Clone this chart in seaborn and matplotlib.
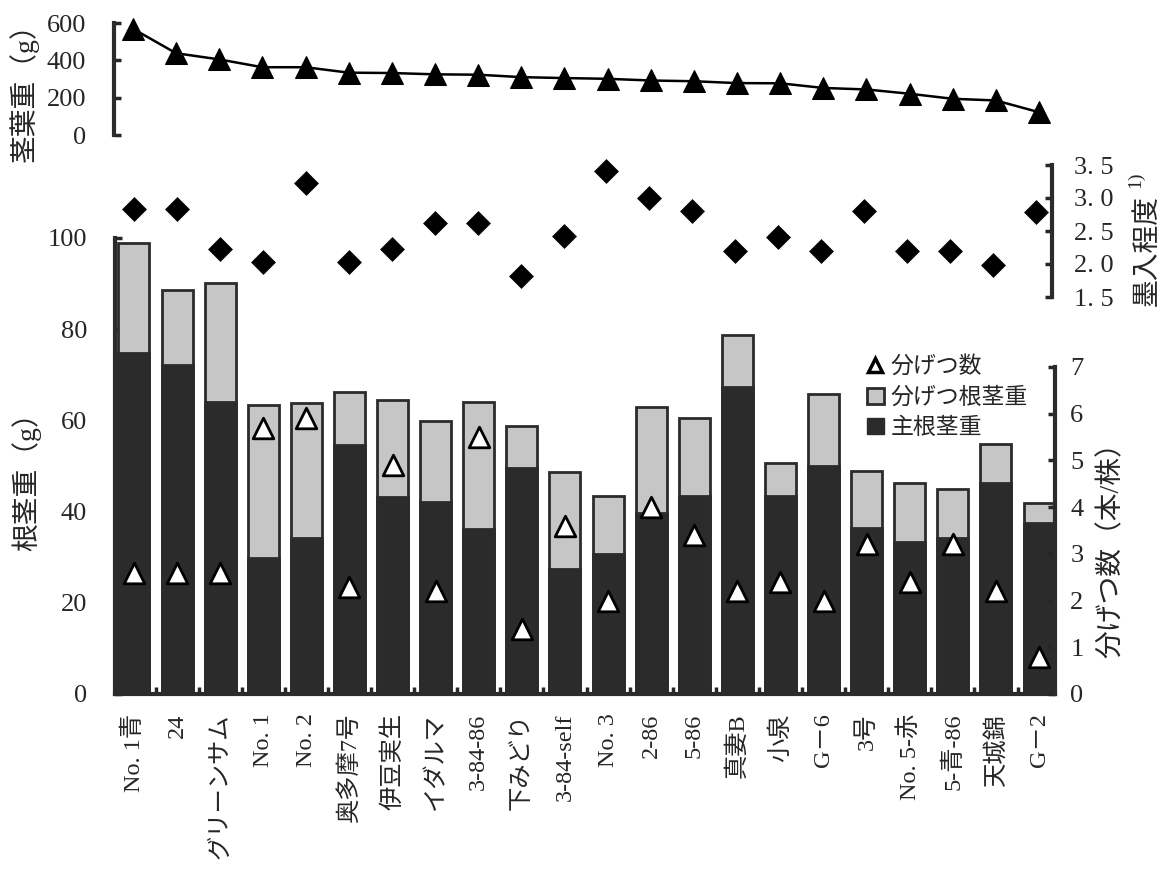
import numpy as np
import matplotlib
matplotlib.use('Agg')
import matplotlib.pyplot as plt
from matplotlib.lines import Line2D
from matplotlib.patches import Patch
import seaborn as sns

sns.set_theme(style="white")
plt.rcParams['font.family'] = ['Liberation Serif', 'Noto Sans CJK JP', 'DejaVu Sans']

# cultivars, in the order of the x axis
cultivars = ["No. 1青", "24", "グリーンサム", "No. 1", "No. 2", "奥多摩7号", "伊豆実生",
             "イダルマ", "3-84-86", "下みどり", "3-84-self", "No. 3", "2-86", "5-86",
             "真妻B", "小泉", "G－6", "3号", "No. 5-赤", "5-青-86", "天城錦", "G－2"]
# top panel: shoot weight (g)
shoot_weight = [569, 438, 405, 363, 363, 334, 332, 325, 323, 310, 305,
                301, 292, 288, 278, 277, 252, 244, 221, 194, 185, 122]
# middle panel: ink degree
ink_degree = [2.83, 2.83, 2.23, 2.03, 3.23, 2.03, 2.23, 2.62, 2.62, 1.82, 2.42,
              3.41, 3.00, 2.80, 2.20, 2.41, 2.20, 2.80, 2.20, 2.20, 1.98, 2.79]
ink_ticks = [1.5, 2.0, 2.5, 3.0, 3.5]
ink_ticklabels = ['1. 5', '2. 0', '2. 5', '3. 0', '3. 5']
# bottom panel: rhizome weight (g), total and main rhizome
root_total = [99.0, 88.6, 90.1, 63.4, 63.8, 66.3, 64.5, 59.9, 64.1, 58.8, 48.7,
              43.4, 63.0, 60.6, 78.7, 50.7, 65.7, 48.9, 46.3, 44.9, 54.8, 41.9]
root_main = [74.8, 72.1, 64.0, 29.8, 34.2, 54.6, 43.2, 42.1, 36.2, 49.6, 27.4,
             30.7, 39.6, 43.4, 67.4, 43.4, 50.0, 36.4, 33.3, 34.2, 46.3, 37.5]
# tillers per plant
tillers = [2.6, 2.6, 2.6, 5.7, 5.9, 2.3, 4.9, 2.2, 5.5, 1.4, 3.6,
           2.0, 4.0, 3.4, 2.2, 2.4, 2.0, 3.2, 2.4, 3.2, 2.2, 0.8]

W, H = 1167, 882
dark = '#2b2b2b'
gray = '#c6c6c6'
idx = np.arange(len(cultivars))
xlim = (-0.44, 21.37)
tick_fs = 19

def px_axes(x0, x1, ytop, ybot):
    return [x0 / W, 1 - ybot / H, (x1 - x0) / W, (ybot - ytop) / H]

fig = plt.figure(figsize=(W / 100, H / 100), dpi=100)
ax = fig.add_axes(px_axes(115, 1055, 238, 694))
ax_mid = fig.add_axes(px_axes(115, 1052, 165, 297))
ax_top = fig.add_axes(px_axes(114, 1055, 23, 135))
for a in (ax, ax_mid, ax_top):
    a.set_facecolor('none')

# --- bottom: stacked bars + tiller count
sns.barplot(x=cultivars, y=root_total, color=gray, edgecolor=dark, linewidth=2,
            width=0.72, saturation=1, ax=ax)
sns.barplot(x=cultivars, y=root_main, color=dark, edgecolor=dark, linewidth=2,
            width=0.72, saturation=1, ax=ax)
ax.set_ylim(0, 100)
ax.set_xlim(*xlim)
ax.set_yticks([0, 20, 40, 60, 80, 100])
ax.set_xticks(idx)
ax.set_xticklabels(cultivars, rotation=90, fontsize=17.5)
ax.set_xticks(idx[:-1] + 0.5, minor=True)
ax.tick_params(axis='x', which='major', length=0, pad=14)
ax.tick_params(axis='x', which='minor', direction='in', length=5, width=2.5, bottom=True)
ax.tick_params(axis='y', direction='in', length=5, width=2.5, left=True, labelsize=tick_fs, pad=20)
ax.set_xlabel('')
ax.set_ylabel('')
for s in ['top', 'right']:
    ax.spines[s].set_visible(False)
ax.spines['left'].set_bounds(0, 100)
for s in ['left', 'bottom']:
    ax.spines[s].set_linewidth(3)
    ax.spines[s].set_color(dark)

ax_r = ax.twinx()
sns.scatterplot(x=idx, y=tillers, marker='^', s=220, color='white', edgecolor='black',
                linewidth=2, ax=ax_r, zorder=5)
ax_r.set_ylim(0, 9.76)
ax_r.set_yticks(range(8))
ax_r.set_xlim(*xlim)
ax_r.tick_params(axis='y', direction='in', length=5, width=2.5, right=True, labelsize=tick_fs, pad=11)
ax_r.set_ylabel('')
for s in ['top', 'left', 'bottom']:
    ax_r.spines[s].set_visible(False)
ax_r.spines['right'].set_bounds(0, 7)
ax_r.spines['right'].set_linewidth(3)
ax_r.spines['right'].set_color(dark)

handles = [Line2D([], [], marker='^', ls='none', mfc='white', mec='black', mew=2.5, ms=10),
           Patch(facecolor=gray, edgecolor=dark, linewidth=2),
           Patch(facecolor=dark, edgecolor=dark)]
ax.legend(handles, ['分げつ数', '分げつ根茎重', '主根茎重'], loc='upper left',
          bbox_to_anchor=(856 / W, 1 - 345 / H), bbox_transform=fig.transFigure,
          frameon=False, fontsize=16.5, handlelength=0.7, handleheight=0.7,
          handletextpad=0.3, labelspacing=0.4, borderpad=0)

# --- middle: ink degree
sns.scatterplot(x=idx, y=ink_degree, marker='D', s=190, color='black', ax=ax_mid, clip_on=False)
ax_mid.set_ylim(1.5, 3.5)
ax_mid.set_xlim(*xlim)
ax_mid.set_yticks(ink_ticks)
ax_mid.set_yticklabels(ink_ticklabels)
ax_mid.yaxis.tick_right()
ax_mid.tick_params(axis='y', direction='in', length=5, width=2.5, right=True, labelsize=tick_fs, pad=16)
ax_mid.set_xticks([])
ax_mid.set_xlabel('')
ax_mid.set_ylabel('')
for s in ['top', 'left', 'bottom']:
    ax_mid.spines[s].set_visible(False)
ax_mid.spines['right'].set_linewidth(3)
ax_mid.spines['right'].set_color(dark)

# --- top: shoot weight
sns.lineplot(x=idx, y=shoot_weight, color='black', marker='^', markersize=16, mec='black',
             lw=1.8, ax=ax_top, clip_on=False)
ax_top.set_ylim(0, 600)
ax_top.set_xlim(*xlim)
ax_top.set_yticks([0, 200, 400, 600])
ax_top.tick_params(axis='y', direction='in', length=5, width=2.5, left=True, labelsize=tick_fs, pad=20)
ax_top.set_xticks([])
ax_top.set_xlabel('')
ax_top.set_ylabel('')
for s in ['top', 'right', 'bottom']:
    ax_top.spines[s].set_visible(False)
ax_top.spines['left'].set_linewidth(3)
ax_top.spines['left'].set_color(dark)

# axis titles
lab = dict(rotation=90, ha='center', va='center', fontsize=20)
fig.text(24 / W, 1 - 86 / H, '茎葉重（g）', **lab)
fig.text(26 / W, 1 - 475 / H, '根茎重（g）', **lab)
fig.text(1112 / W, 1 - 543 / H, '分げつ数（本/株）', **lab)
fig.text(1148 / W, 1 - 251 / H, '墨入程度', **lab)
fig.text(1136 / W, 1 - 180 / H, '1)', rotation=90, ha='center', va='center', fontsize=14)

fig.savefig('out.png', dpi=100)
